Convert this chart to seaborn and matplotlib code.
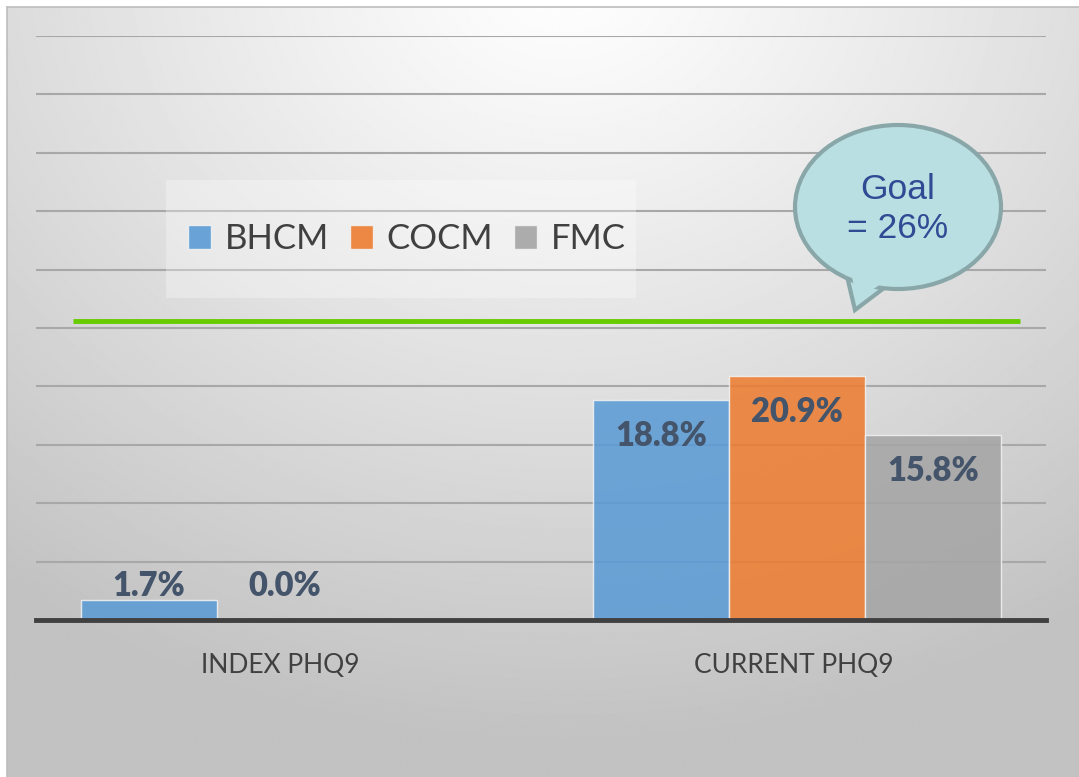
import numpy as np
import pandas as pd
import matplotlib
matplotlib.use("Agg")
import matplotlib.pyplot as plt
from matplotlib.patches import Ellipse, Polygon, Patch, Rectangle
import seaborn as sns

# données
categories = ['INDEX PHQ9', 'CURRENT PHQ9']
programs = ['BHCM', 'COCM', 'FMC']
bhcm = [1.7, 18.8]
cocm = [0.0, 20.9]
fmc = [np.nan, 15.8]
goal_value = 25.6
goal_text = 'Goal\n= 26%'

colors = ['#5B9BD5', '#ED7D31', '#A5A5A5']

df = pd.DataFrame({
    'cat': categories * 3,
    'program': [p for p in programs for _ in categories],
    'val': bhcm + cocm + fmc,
})

sns.set_style('white')
plt.rcParams['font.family'] = ['Lato', 'DejaVu Sans']

W, H = 1079, 777
fig = plt.figure(figsize=(W / 100, H / 100), dpi=100)

# fond dégradé radial
bg = fig.add_axes([7 / W, 0, 1 - 7 / W, 1 - 7 / H])
yy, xx = np.mgrid[0:H, 0:W]
r = np.sqrt((xx - 560) ** 2 + ((yy + 40) / 0.85) ** 2)
t = np.clip(r / 920, 0, 1)
shade = 1.0 - 0.24 * t ** 1.1
bg.imshow(shade, cmap='gray', vmin=0, vmax=1, aspect='auto', interpolation='bilinear')
bg.set_axis_off()
fig.add_artist(plt.Line2D([7 / W, 7 / W], [0, 1 - 7 / H], color='#bdbdbd', lw=1.2))
fig.add_artist(plt.Line2D([7 / W, 1], [1 - 7 / H, 1 - 7 / H], color='#bdbdbd', lw=1.2))

# axes principaux
left, right, top, bottom = 36, 1046, 36, 620
ax = fig.add_axes([left / W, 1 - bottom / H, (right - left) / W, (bottom - top) / H])
ax.patch.set_alpha(0)

sns.barplot(data=df, x='cat', y='val', hue='program', hue_order=programs,
            order=categories, palette=colors, saturation=1, width=0.796, alpha=0.87,
            edgecolor='#f2f2f2', linewidth=1, legend=False, ax=ax, zorder=3)

ax.set_ylim(0, 50)
ax.set_xlim(-0.485, 1.486)
ax.set_yticks(np.arange(5, 51, 5))
ax.yaxis.grid(True, color='#a8a8a8', lw=1.5, zorder=0)
ax.set_axisbelow(True)
ax.set_yticklabels([])
ax.tick_params(axis='both', length=0)
ax.set_xlabel('')
ax.set_ylabel('')
for s in ['left', 'right', 'top']:
    ax.spines[s].set_visible(False)
ax.spines['bottom'].set_color('#404040')
ax.spines['bottom'].set_linewidth(3.5)
ax.spines['bottom'].set_zorder(5)
ax.set_xticks([-0.008, 0.993])
ax.set_xticklabels(categories, fontsize=19, color='#404040')
ax.tick_params(axis='x', pad=24)

# étiquettes de valeurs
for container in ax.containers:
    for bar in container:
        h = bar.get_height()
        if np.isnan(h):
            continue
        x = bar.get_x() + bar.get_width() / 2
        if h < 5:
            ax.annotate(f'{h:.1f}%', (x, 0), xytext=(0, 34), textcoords='offset pixels',
                        ha='center', va='center', fontsize=23.5, fontweight='heavy',
                        color='#44546A', zorder=6)
        else:
            ax.annotate(f'{h:.1f}%', (x, h), xytext=(0, -36), textcoords='offset pixels',
                        ha='center', va='center', fontsize=23.5, fontweight='heavy',
                        color='#44546A', zorder=6)

# ligne objectif
x0 = ax.get_xlim()[0]
unit = (right - left) / (ax.get_xlim()[1] - x0)
ax.plot([x0 + (73 - left) / unit, x0 + (1020 - left) / unit],
        [goal_value, goal_value], color='#66CC00', lw=3.5, zorder=4, solid_capstyle='butt')

# calque d'annotation en pixels
ov = fig.add_axes([0, 0, 1, 1])
ov.set_xlim(0, W)
ov.set_ylim(H, 0)
ov.set_axis_off()
ov.patch.set_alpha(0)

# fond de légende
ov.add_patch(Rectangle((166, 180), 470, 118, facecolor='white', alpha=0.3, edgecolor='none'))

handles = [Patch(facecolor=c, edgecolor='#f2f2f2', alpha=0.9) for c in colors]
leg = fig.legend(handles, programs, ncol=3, loc='center', bbox_to_anchor=(407 / W, 1 - 239 / H),
                 frameon=False, fontsize=25, handlelength=0.66, handleheight=0.66,
                 handletextpad=0.4, columnspacing=0.6, labelcolor='#404040')

# bulle "Goal"
edge = '#89A7A9'
fill = '#B9DFE3'
tail = [(846, 272), (855, 310), (888, 285)]
ov.add_patch(Polygon(tail, closed=True, facecolor=fill, edgecolor=edge, lw=3, joinstyle='miter'))
ov.add_patch(Ellipse((898, 207), 206, 164, facecolor=fill, edgecolor=edge, lw=3))
ov.add_patch(Polygon([(850, 268), (857, 300), (884, 282)], closed=True, facecolor=fill, edgecolor='none'))
ov.text(898, 209, goal_text, ha='center', va='center', fontsize=25.5, color='#2F4B94',
        family=['Liberation Sans', 'DejaVu Sans'], linespacing=1.25)

fig.savefig('out.png', dpi=100)
